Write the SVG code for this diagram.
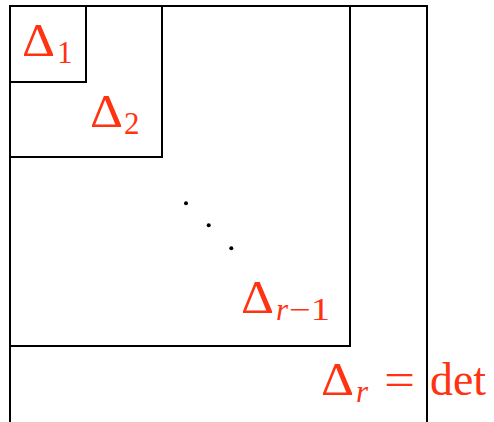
<svg xmlns="http://www.w3.org/2000/svg" width="494" height="422" viewBox="0 0 494 422">
<style>
.ln{fill:none;stroke:#000;stroke-width:2}
.t{font-family:"Liberation Serif","DejaVu Serif",serif;fill:#ff3311}
.big{font-size:46px}
.sub{font-size:31px}
.it{font-style:italic}
</style>
<rect width="494" height="422" fill="#fff"/>
<g id="connectors">
<path class="ln" d="M10,422 V6 H427 V422"/>
</g>
<g id="delta1">
<path class="ln" d="M10,82 H86 V6"/>
<text class="t big" x="22" y="56" textLength="33" lengthAdjust="spacingAndGlyphs">Δ</text>
<text class="t sub" x="57" y="63">1</text>
</g>
<g id="delta2">
<path class="ln" d="M10,157 H162 V6"/>
<text class="t big" x="90" y="127" textLength="33" lengthAdjust="spacingAndGlyphs">Δ</text>
<text class="t sub" x="124" y="134">2</text>
</g>
<g id="dots">
<circle cx="186" cy="203.3" r="2" fill="#000"/>
<circle cx="208.7" cy="225.3" r="2" fill="#000"/>
<circle cx="231.3" cy="248.3" r="2" fill="#000"/>
</g>
<g id="deltar1">
<path class="ln" d="M10,346 H350 V6"/>
<text class="t big" x="241" y="313" textLength="33" lengthAdjust="spacingAndGlyphs">Δ</text>
<text class="t sub it" x="276" y="320">r</text>
<text class="t sub" x="289" y="320" textLength="41" lengthAdjust="spacingAndGlyphs">−1</text>
</g>
<g id="deltar">
<text class="t big" x="321" y="395" textLength="33" lengthAdjust="spacingAndGlyphs">Δ</text>
<text class="t sub it" x="356" y="402">r</text>
<text class="t big" x="384" y="395" textLength="31" lengthAdjust="spacingAndGlyphs">=</text>
<text class="t big" x="430" y="395" textLength="56" lengthAdjust="spacingAndGlyphs">det</text>
</g>
</svg>
